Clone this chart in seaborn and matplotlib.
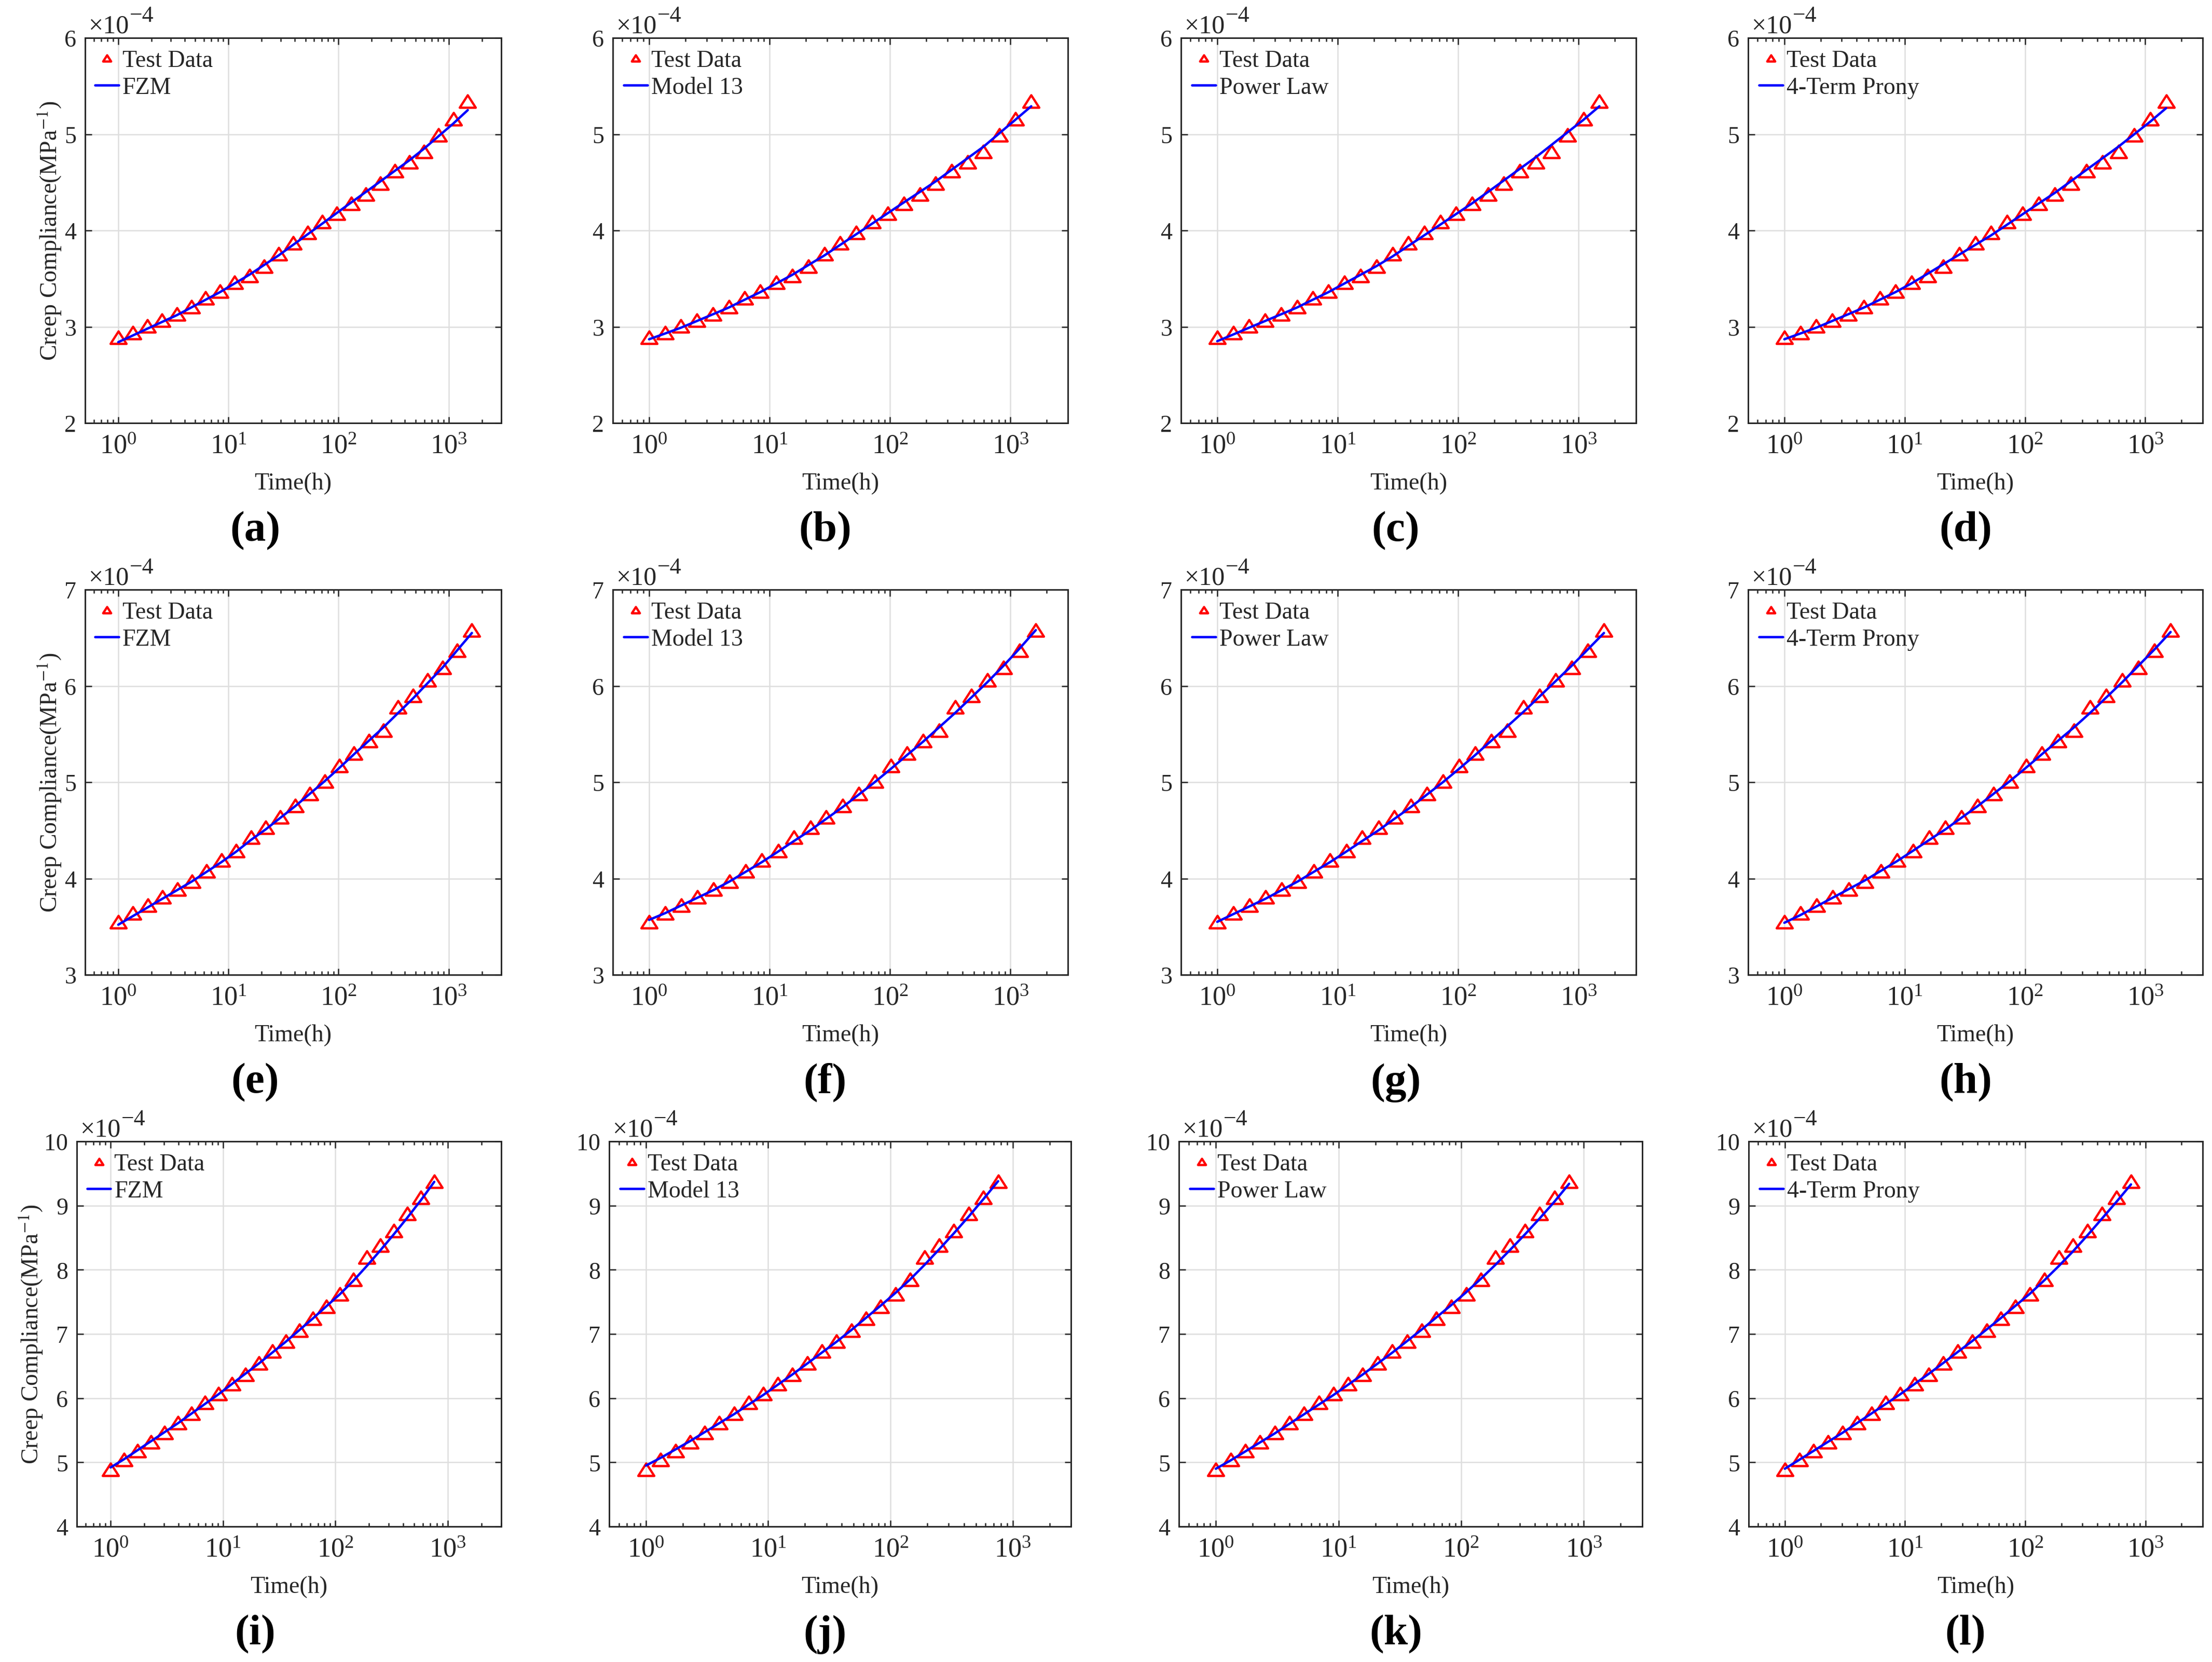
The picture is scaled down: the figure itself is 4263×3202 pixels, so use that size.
import matplotlib
matplotlib.use("Agg")
import matplotlib.pyplot as plt
from matplotlib.path import Path
from matplotlib.ticker import MultipleLocator, LogLocator, NullFormatter
import seaborn as sns

# time points (h) for each specimen row
x_row1 = [1, 1.36, 1.84, 2.5, 3.4, 4.6, 6.2, 8.4, 11.4, 15.5, 21, 28.5, 38.6,
          52.4, 71, 96, 130, 177, 240, 325, 441, 598, 811, 1100, 1490]
x_row2 = [1, 1.36, 1.85, 2.52, 3.43, 4.67, 6.35, 8.64, 11.8, 16.0, 21.8, 29.6,
          40.3, 54.9, 74.7, 102, 138, 188, 256, 348, 474, 645, 878, 1195, 1625]
x_row3 = [1, 1.32, 1.74, 2.29, 3.02, 3.98, 5.25, 6.92, 9.12, 12.0, 15.8, 20.9,
          27.5, 36.3, 47.8, 63.0, 83.1, 110, 145, 191, 251, 331, 437, 576, 760]

# measured creep compliance (x 1e-4 MPa^-1)
test_row1 = [2.89, 2.94, 3.01, 3.07, 3.13, 3.21, 3.30, 3.37, 3.46, 3.53, 3.63, 3.76, 3.87,
             3.98, 4.09, 4.18, 4.28, 4.38, 4.49, 4.62, 4.71, 4.82, 4.99, 5.16, 5.34]
test_row2 = [3.55, 3.64, 3.72, 3.81, 3.89, 3.97, 4.08, 4.19, 4.29, 4.43, 4.53, 4.64, 4.76,
             4.88, 5.01, 5.17, 5.30, 5.43, 5.54, 5.78, 5.90, 6.06, 6.19, 6.37, 6.58]
test_row3 = [4.89, 5.04, 5.18, 5.32, 5.46, 5.62, 5.76, 5.93, 6.07, 6.22, 6.37, 6.55, 6.73,
             6.89, 7.06, 7.24, 7.43, 7.62, 7.85, 8.20, 8.38, 8.61, 8.88, 9.13, 9.38]

# model fits
fzm_row1 = [2.84, 2.91, 2.98, 3.05, 3.12, 3.20, 3.28, 3.36, 3.45, 3.54, 3.64, 3.74, 3.85,
            3.96, 4.07, 4.18, 4.29, 4.40, 4.51, 4.62, 4.73, 4.85, 4.98, 5.11, 5.25]
m13_row1 = [2.87, 2.93, 2.99, 3.06, 3.13, 3.20, 3.28, 3.36, 3.45, 3.54, 3.64, 3.74, 3.85,
            3.96, 4.07, 4.18, 4.29, 4.40, 4.51, 4.63, 4.75, 4.87, 5.01, 5.15, 5.29]
pow_row1 = [2.85, 2.92, 2.99, 3.06, 3.13, 3.20, 3.28, 3.36, 3.45, 3.54, 3.63, 3.73, 3.84,
            3.95, 4.06, 4.17, 4.28, 4.40, 4.52, 4.64, 4.76, 4.89, 5.02, 5.15, 5.29]
prony_row1 = [2.87, 2.93, 2.99, 3.06, 3.13, 3.20, 3.28, 3.36, 3.45, 3.55, 3.65, 3.75, 3.85,
              3.95, 4.06, 4.17, 4.28, 4.39, 4.51, 4.63, 4.75, 4.87, 5.00, 5.13, 5.27]

fzm_row2 = [3.52, 3.61, 3.70, 3.79, 3.88, 3.97, 4.07, 4.17, 4.28, 4.40, 4.51, 4.63, 4.75,
            4.88, 5.01, 5.15, 5.29, 5.43, 5.57, 5.72, 5.87, 6.03, 6.19, 6.37, 6.55]
m13_row2 = [3.57, 3.64, 3.72, 3.80, 3.88, 3.97, 4.07, 4.17, 4.28, 4.39, 4.50, 4.62, 4.74,
            4.87, 5.00, 5.14, 5.28, 5.42, 5.57, 5.72, 5.88, 6.04, 6.21, 6.39, 6.58]
pow_row2 = [3.55, 3.63, 3.71, 3.79, 3.88, 3.97, 4.07, 4.17, 4.28, 4.39, 4.50, 4.62, 4.74,
            4.87, 5.00, 5.14, 5.28, 5.43, 5.58, 5.73, 5.89, 6.05, 6.21, 6.38, 6.55]
prony_row2 = [3.54, 3.62, 3.71, 3.80, 3.89, 3.98, 4.08, 4.18, 4.29, 4.40, 4.51, 4.63, 4.75,
              4.88, 5.01, 5.15, 5.29, 5.43, 5.57, 5.72, 5.88, 6.04, 6.21, 6.38, 6.56]

fzm_row3 = [4.92, 5.05, 5.19, 5.33, 5.47, 5.61, 5.76, 5.91, 6.06, 6.22, 6.38, 6.54, 6.71,
            6.88, 7.06, 7.24, 7.43, 7.62, 7.83, 8.06, 8.30, 8.55, 8.81, 9.08, 9.37]
m13_row3 = [4.95, 5.07, 5.20, 5.33, 5.47, 5.61, 5.75, 5.90, 6.05, 6.21, 6.37, 6.54, 6.71,
            6.88, 7.06, 7.25, 7.44, 7.64, 7.85, 8.08, 8.32, 8.57, 8.83, 9.10, 9.38]
pow_row3 = [4.90, 5.03, 5.17, 5.31, 5.45, 5.60, 5.75, 5.90, 6.05, 6.21, 6.37, 6.54, 6.71,
            6.89, 7.07, 7.26, 7.45, 7.65, 7.86, 8.08, 8.31, 8.55, 8.80, 9.06, 9.34]
prony_row3 = [4.90, 5.04, 5.18, 5.32, 5.46, 5.61, 5.76, 5.91, 6.06, 6.22, 6.38, 6.55, 6.72,
              6.89, 7.07, 7.25, 7.44, 7.63, 7.84, 8.06, 8.29, 8.54, 8.80, 9.06, 9.33]

model_names = ["FZM", "Model 13", "Power Law", "4-Term Prony"]
panel_letters = ["a", "b", "c", "d", "e", "f", "g", "h", "i", "j", "k", "l"]
y_limits = [(2, 6), (3, 7), (4, 10)]

rows = [
    (x_row1, test_row1, [fzm_row1, m13_row1, pow_row1, prony_row1]),
    (x_row2, test_row2, [fzm_row2, m13_row2, pow_row2, prony_row2]),
    (x_row3, test_row3, [fzm_row3, m13_row3, pow_row3, prony_row3]),
]

sns.set_theme(style="ticks")
plt.rcParams["font.family"] = ["Liberation Serif", "DejaVu Serif"]
plt.rcParams["mathtext.fontset"] = "stix"
plt.rcParams["axes.unicode_minus"] = True

W, H = 4263, 3203
fig = plt.figure(figsize=(W / 300, H / 300), dpi=300)

# axes boxes in pixels (left, right), rows top at given px
cols_12 = [(164, 966), (1181, 2058), (2276, 3153), (3369, 4245)]
cols_3 = [(148, 966), (1174, 2064), (2272, 3165), (3370, 4245)]
row_tops = [74, 1137, 2200]
ax_h = 742
label_x = [492, 1590, 2690, 3788]
label_y = [1023, 2086, 3149]

# MATLAB-like flat triangle
tri = Path([(0, 0.78), (-1, -0.78), (1, -0.78), (0, 0.78)],
           [Path.MOVETO, Path.LINETO, Path.LINETO, Path.CLOSEPOLY])

dark = "#262626"
k = 0
for r, (xs, test, fits) in enumerate(rows):
    cols = cols_3 if r == 2 else cols_12
    for c in range(4):
        left, right = cols[c]
        top = row_tops[r]
        ax = fig.add_axes([left / W, 1 - (top + ax_h) / H, (right - left) / W, ax_h / H])

        sns.lineplot(x=xs, y=test, ax=ax, marker=tri, linestyle="", markersize=7.4,
                     markerfacecolor="none", markeredgecolor="red", markeredgewidth=1.05,
                     color="red", label="Test Data", zorder=3)
        sns.lineplot(x=xs, y=fits[c], ax=ax, color="blue", linewidth=1.1,
                     label=model_names[c], zorder=4)

        ax.set_xscale("log")
        ax.set_xlim(0.5, 3000)
        ax.set_ylim(*y_limits[r])
        ax.yaxis.set_major_locator(MultipleLocator(1))
        ax.xaxis.set_major_locator(LogLocator(base=10, numticks=10))
        ax.xaxis.set_minor_locator(LogLocator(base=10, subs=range(2, 10), numticks=20))
        ax.xaxis.set_minor_formatter(NullFormatter())

        ax.grid(True, which="major", color="#dedede", linewidth=0.6)
        ax.set_axisbelow(True)
        for sp in ax.spines.values():
            sp.set_color(dark)
            sp.set_linewidth(0.7)
        ax.tick_params(which="both", direction="in", top=True, right=True,
                       color=dark, labelcolor=dark, width=0.6)
        ax.tick_params(which="major", length=3)
        ax.tick_params(which="minor", length=1.6)
        ax.tick_params(axis="x", which="major", labelsize=12.5, pad=5)
        ax.tick_params(axis="y", which="major", labelsize=11, pad=4)

        ax.set_xlabel("Time(h)", fontsize=11, color=dark)
        ax.xaxis.set_label_coords(0.5, -0.127)
        if c == 0:
            ax.set_ylabel("Creep Compliance(MPa$^{-1}$)", fontsize=11, color=dark)
            if r == 2:
                ax.yaxis.set_label_coords(-0.076, 0.5)
            else:
                ax.yaxis.set_label_coords(-0.052, 0.5)
        else:
            ax.set_ylabel("")

        # exponent label like MATLAB: x10 with a large superscript
        base = ax.annotate("\u00d710", xy=(0, 1), xycoords="axes fraction",
                           xytext=(1.5, 2.4), textcoords="offset points",
                           ha="left", va="baseline", fontsize=12, color=dark)
        ax.annotate("\u22124", xy=(1, 1), xycoords=base, xytext=(0.3, 4.3),
                    textcoords="offset points", ha="left", va="top",
                    fontsize=10.5, color=dark)

        ax.legend(loc="upper left", bbox_to_anchor=(0.024, 0.970), frameon=False,
                  fontsize=11, handlelength=1.0, handletextpad=0.15,
                  borderpad=0, borderaxespad=0, labelspacing=0.22,
                  markerscale=0.5, numpoints=1)

        fig.text(label_x[c] / W, 1 - label_y[r] / H, "(" + panel_letters[k] + ")",
                 ha="center", va="center", fontsize=20, fontweight="bold", color="black")
        k += 1

fig.savefig("out.png", dpi=300)
